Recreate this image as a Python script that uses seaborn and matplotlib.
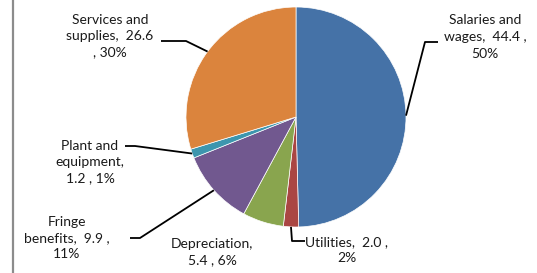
import numpy as np
import matplotlib
matplotlib.use("Agg")
import matplotlib.pyplot as plt
import seaborn as sns

# datos del grafico
categorias = ["Salaries and wages", "Utilities", "Depreciation",
              "Fringe benefits", "Plant and equipment", "Services and supplies"]
valores = [44.4, 2.0, 5.4, 9.9, 1.2, 26.6]
colores = ["#4572A7", "#AA4643", "#89A54E", "#71588F", "#3D96AE", "#DB843D"]

sns.set_theme(style="white")
plt.rcParams["font.family"] = ["Lato", "DejaVu Sans"]

W, H = 537, 273
CX, CY, R = 296, 117, 110   # centro y radio del pastel en pixeles


def px(x, y):
    # pixeles (origen arriba-izquierda) -> coordenadas de datos
    return (x - CX) / R, (CY - y) / R


total = sum(valores)
pct = [round(v / total * 100) for v in valores]

textos = [
    f"Salaries and\nwages,  {valores[0]:.1f} ,\n{pct[0]}%",
    f"Utilities,  {valores[1]:.1f} ,\n{pct[1]}%",
    f"Depreciation,\n{valores[2]:.1f} , {pct[2]}%",
    f"Fringe\nbenefits,  {valores[3]:.1f} ,\n{pct[3]}%",
    f"Plant and\nequipment,\n{valores[4]:.1f} , {pct[4]}%",
    f"Services and\nsupplies,  {valores[5]:.1f}\n, {pct[5]}%",
]
# posicion del texto y codo de la linea guia (pixeles)
pos_texto = [(485, 37), (347, 250), (212, 252), (67, 238), (90, 162), (110, 36)]
guias = [[(438, 42), (425, 42)], [(305, 241), (292, 241)], None,
         [(130, 238), (140, 238)], [(125, 146), (135, 146)],
         [(161, 41), (186, 41)]]

fig = plt.figure(figsize=(W / 100, H / 100), dpi=100)
ax = fig.add_axes([0, 0, 1, 1])

wedges, _ = ax.pie(valores, colors=colores, startangle=90, counterclock=False,
                   radius=1, center=(0, 0),
                   wedgeprops=dict(linewidth=0.5, edgecolor="white"))

for w, txt, (tx, ty), guia in zip(wedges, textos, pos_texto, guias):
    x, y = px(tx, ty)
    ax.text(x, y, txt, ha="center", va="center", fontsize=10,
            color="#1a1a1a", linespacing=1.45)
    if guia is not None:
        ang = np.deg2rad((w.theta1 + w.theta2) / 2)
        pts = [px(*p) for p in guia] + [(np.cos(ang), np.sin(ang))]
        xs, ys = zip(*pts)
        ax.plot(xs, ys, color="black", lw=1.3, solid_capstyle="butt")

ax.set_xlim(-CX / R, (W - CX) / R)
ax.set_ylim(-(H - CY) / R, CY / R)
ax.set_aspect("equal")
ax.axis("off")

# borde izquierdo del area del grafico
fig.add_artist(plt.Line2D([12.5 / W, 12.5 / W], [0, 1], color="#8c8c8c", lw=1.6))

fig.savefig("out.png", dpi=100)
